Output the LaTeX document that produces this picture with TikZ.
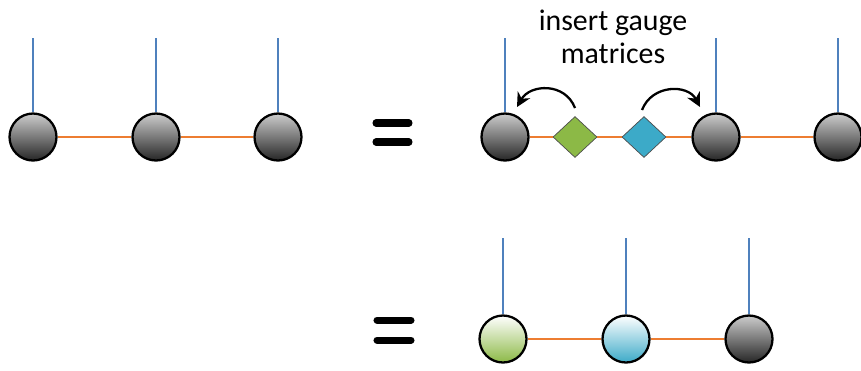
\documentclass[tikz,border=0pt]{standalone}
\usepackage{fontspec}
\setsansfont{Carlito}
\usetikzlibrary{shapes.geometric, arrows.meta}
\definecolor{bondorange}{RGB}{237,125,49}
\definecolor{legblue}{RGB}{79,129,189}
\definecolor{gaugegreen}{RGB}{140,185,70}
\definecolor{gaugeblue}{RGB}{60,170,200}

\tikzset{
  site/.style={circle, draw=black, line width=1.3pt, minimum size=0.94cm, inner sep=0pt,
    top color=gray!40, bottom color=black!85},
  greensite/.style={site, top color=white, bottom color=gaugegreen},
  bluesite/.style={site, top color=white, bottom color=gaugeblue},
  gauge/.style={diamond, draw=black!70, thin, inner sep=0pt, minimum width=0.88cm, minimum height=0.82cm},
  leg/.style={legblue, line width=1.4pt},
  bond/.style={bondorange, line width=1.6pt},
  eqbar/.style={line width=4pt, line cap=round},
  swap/.style={-{Stealth[length=8pt,width=8pt]}, line width=1.3pt}
}

\begin{document}
\begin{tikzpicture}[x=0.02cm, y=-0.02cm]
        \useasboundingbox (0,0) rectangle (861,370);

        % left chain
        \node[site] (a1) at (33,137) {};
        \node[site] (a2) at (156,137) {};
        \node[site] (a3) at (278,137) {};
        \draw[bond] (a1) -- (a2);
        \draw[bond] (a2) -- (a3);
        \foreach \n in {a1,a2,a3} {
            \draw[leg] (\n.north) -- (\n.north |- 0,38);
        }

        % equals signs
        \draw[eqbar] (376,123) -- (409,123);
        \draw[eqbar] (376,142) -- (409,142);
        \draw[eqbar] (377,320) -- (411,320);
        \draw[eqbar] (377,340) -- (411,340);

        % chain with gauge matrices
        \node[site] (b1) at (505,137) {};
        \node[gauge, fill=gaugegreen] (g1) at (575,137) {};
        \node[gauge, fill=gaugeblue] (g2) at (644,137) {};
        \node[site] (b2) at (716,137) {};
        \node[site] (b3) at (838,137) {};
        \draw[bond] (b1) -- (g1);
        \draw[bond] (g1) -- (g2);
        \draw[bond] (g2) -- (b2);
        \draw[bond] (b2) -- (b3);
        \foreach \n in {b1,b2,b3} {
            \draw[leg] (\n.north) -- (\n.north |- 0,38);
        }

        \node[font=\sffamily\fontsize{17}{19}\selectfont, align=center] (lbl) at (613,37) {insert gauge\\matrices};

        % arrows
        \coordinate (l0) at (575,108);
        \coordinate (l1) at (517,107);
        \coordinate (r0) at (642,110);
        \coordinate (r1) at (700,107);
        \draw[swap] (l0) .. controls (565,82) and (530,84) .. (l1);
        \draw[swap] (r0) .. controls (652,84) and (688,84) .. (r1);

        % gauged chain
        \node[greensite] (c1) at (503,339) {};
        \node[bluesite] (c2) at (626,339) {};
        \node[site] (c3) at (749,339) {};
        \draw[bond] (c1) -- (c2);
        \draw[bond] (c2) -- (c3);
        \foreach \n in {c1,c2,c3} {
            \draw[leg] (\n.north) -- (\n.north |- 0,238);
        }
    \end{tikzpicture}
\end{document}
